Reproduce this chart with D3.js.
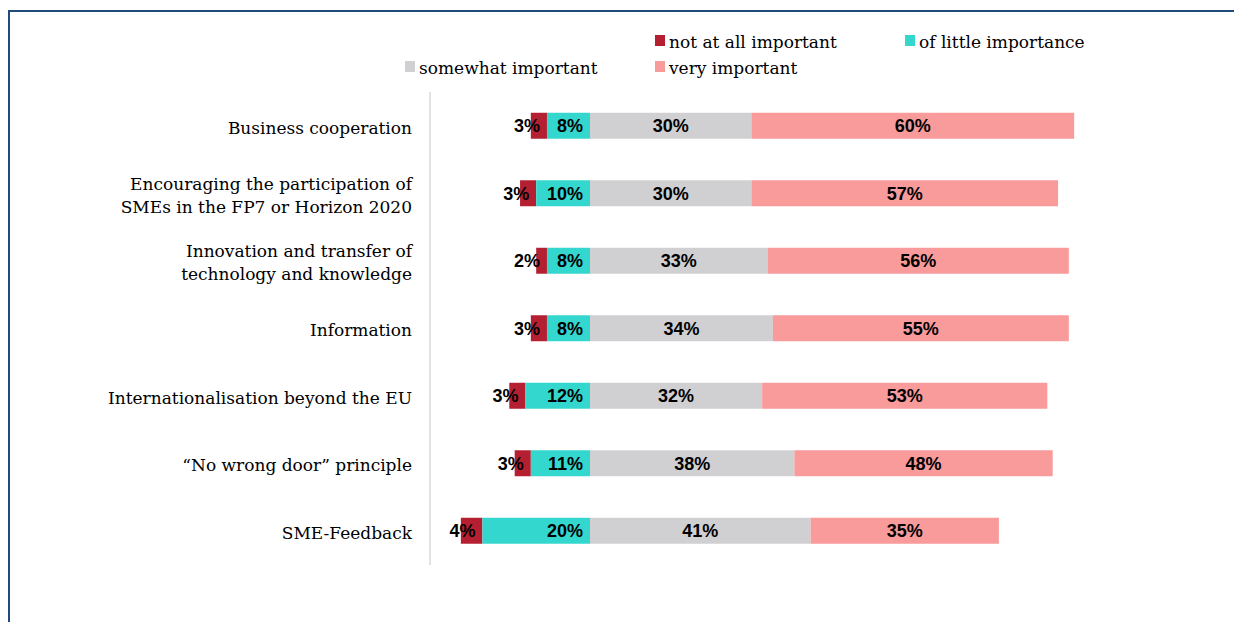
<!DOCTYPE html>
<html>
<head>
<meta charset="utf-8">
<script src="https://cdn.jsdelivr.net/npm/d3@7/dist/d3.min.js"></script>
<style>
  html, body { margin: 0; padding: 0; background: #ffffff; }
  svg { display: block; }
</style>
</head>
<body>
<svg id="chart" width="1234" height="622"></svg>
<script>
// Support measures, ranked by share of respondents rating them "very important"
const categories = [
  ["Business cooperation"],
  ["Encouraging the participation of", "SMEs in the FP7 or Horizon 2020"],
  ["Innovation and transfer of", "technology and knowledge"],
  ["Information"],
  ["Internationalisation beyond the EU"],
  ["\u201CNo wrong door\u201D principle"],
  ["SME-Feedback"]
];
const seriesNames = ["not at all important", "of little importance", "somewhat important", "very important"];
const notAtAll   = [3, 3, 2, 3, 3, 3, 4];
const littleImp  = [8, 10, 8, 8, 12, 11, 20];
const somewhat   = [30, 30, 33, 34, 32, 38, 41];
const veryImp    = [60, 57, 56, 55, 53, 48, 35];
const colors = ["#b51f32", "#33d7ce", "#d0d0d2", "#f99a9b"];

const svg = d3.select("#chart");
const W = 1234, H = 622;

// frame lines (top and left)
svg.append("path")
  .attr("d", `M9,${H} L9,11 L${W},11`)
  .attr("fill", "none")
  .attr("stroke", "#1f4a7c")
  .attr("stroke-width", 2);

const keys = categories.map((c, i) => i);
const y = d3.scaleBand().domain(keys).range([92, 564.5]).paddingInner(0.615).paddingOuter(0.3075);
const x = d3.scaleLinear().domain([-25, 100]).range([455.5, 1128]);

// vertical category axis line
svg.append("line")
  .attr("x1", 430).attr("x2", 430)
  .attr("y1", 92).attr("y2", 565)
  .attr("stroke", "#d9d9d9").attr("stroke-width", 1.5);

// diverging stacks: negatives to the left of zero, positives to the right
const rows = keys.map(i => {
  const segs = [];
  segs.push({k: 0, v: notAtAll[i], x0: -(littleImp[i] + notAtAll[i]), x1: -littleImp[i]});
  segs.push({k: 1, v: littleImp[i], x0: -littleImp[i], x1: 0});
  segs.push({k: 2, v: somewhat[i], x0: 0, x1: somewhat[i]});
  segs.push({k: 3, v: veryImp[i], x0: somewhat[i], x1: somewhat[i] + veryImp[i]});
  return {i, segs};
});

const barFont = "'Liberation Sans', Arial, sans-serif";

const g = svg.append("g");
rows.forEach(r => {
  const yy = y(r.i), bh = y.bandwidth();
  r.segs.forEach(s => {
    g.append("rect")
      .attr("x", x(s.x0)).attr("width", x(s.x1) - x(s.x0))
      .attr("y", yy).attr("height", bh)
      .attr("fill", colors[s.k]);
  });
  r.segs.forEach(s => {
    let tx, anchor;
    if (s.k === 0) { tx = x(s.x1) - 7; anchor = "end"; }
    else if (s.k === 1) { tx = x(s.x1) - 7; anchor = "end"; }
    else { tx = (x(s.x0) + x(s.x1)) / 2; anchor = "middle"; }
    // bold value label
    g.append("text")
      .attr("x", tx).attr("y", yy + bh / 2 + 6.5)
      .attr("text-anchor", anchor)
      .attr("font-family", barFont)
      .attr("font-weight", "bold")
      .attr("font-size", 18)
      .attr("fill", "#000")
      .text(s.v + "%");
  });
});

// category labels
const labelFont = "'DejaVu Serif', Georgia, serif";
categories.forEach((lines, i) => {
  const cy = y(i) + y.bandwidth() / 2;
  const lh = 23;
  const t = svg.append("text")
    .attr("text-anchor", "end")
    .attr("font-family", labelFont)
    .attr("font-size", 17)
    .attr("fill", "#000");
  lines.forEach((ln, j) => {
    t.append("tspan")
      .attr("x", 412)
      .attr("y", cy + 8 + (j - (lines.length - 1) / 2) * lh)
      .text(ln);
  });
});

// legend
const legendItems = [
  {k: 0, x: 655, y: 42},
  {k: 1, x: 905, y: 42},
  {k: 2, x: 405, y: 68},
  {k: 3, x: 655, y: 68}
];
legendItems.forEach(d => {
  svg.append("rect")
    .attr("x", d.x).attr("y", d.y - 7)
    .attr("width", 10).attr("height", 11)
    .attr("fill", colors[d.k]);
  svg.append("text")
    .attr("x", d.x + 14).attr("y", d.y + 6)
    .attr("font-family", labelFont)
    .attr("font-size", 17)
    .attr("fill", "#000")
    .text(seriesNames[d.k]);
});
</script>
</body>
</html>
